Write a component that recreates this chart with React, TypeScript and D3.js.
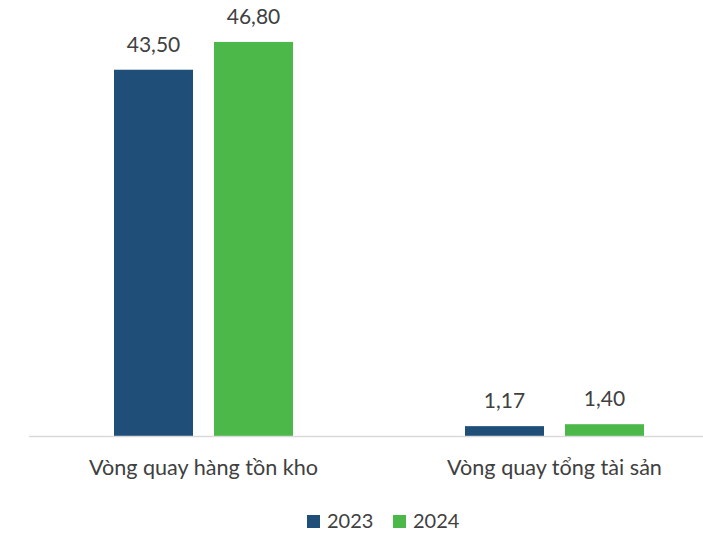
import React from "react";
import * as d3 from "d3";

const categories = ["Vòng quay hàng tồn kho", "Vòng quay tổng tài sản"];
const years = ["2023", "2024"];
const values2023 = [43.5, 1.17];
const values2024 = [46.8, 1.4];
const colors = ["#1f4e79", "#4db84a"];

const width = 703;
const height = 533;
const font = "Lato, 'Open Sans', sans-serif";
const textColor = "#404040";

const App: React.FC = () => {
  const series = [values2023, values2024];

  const x0 = d3.scaleBand().domain(categories).range([28, 730]);
  const x1 = d3
    .scaleBand()
    .domain(years)
    .range([86, 265])
    .paddingInner(0.21);
  const y = d3.scaleLinear().domain([0, 50]).range([436, 15]);

  const fmt = (v: number) => d3.format(".2f")(v).replace(".", ",");

  return (
    <svg
      width={width}
      height={height}
      style={{ position: "absolute", left: 0, top: 0 }}
      fontFamily={font}
    >
      <rect width={width} height={height} fill="#fff" />
      {categories.map((cat, ci) =>
        years.map((yr, si) => {
          const v = series[si][ci];
          const bx = (x0(cat) as number) + (x1(yr) as number);
          return (
            <g key={cat + yr}>
              <rect
                x={bx}
                y={y(v)}
                width={x1.bandwidth()}
                height={y(0) - y(v)}
                fill={colors[si]}
              />
              <text
                x={bx + x1.bandwidth() / 2}
                y={y(v) - 18}
                textAnchor="middle"
                fontSize={21}
                fill={textColor}
              >
                {fmt(v)}
              </text>
            </g>
          );
        })
      )}
      <line x1={29} x2={703} y1={436.5} y2={436.5} stroke="#d9d9d9" strokeWidth={1.5} />
      {categories.map((cat) => (
        <text
          key={cat}
          x={(x0(cat) as number) + x0.bandwidth() / 2}
          y={475}
          textAnchor="middle"
          fontSize={21.6}
          fill={textColor}
        >
          {cat}
        </text>
      ))}
      {years.map((yr, i) => {
        const lx = 307 + i * 86;
        return (
          <g key={yr}>
            <rect x={lx} y={515} width={13} height={13} fill={colors[i]} />
            <text x={lx + 20} y={528} fontSize={20} fill={textColor}>
              {yr}
            </text>
          </g>
        );
      })}
    </svg>
  );
};

export default App;
